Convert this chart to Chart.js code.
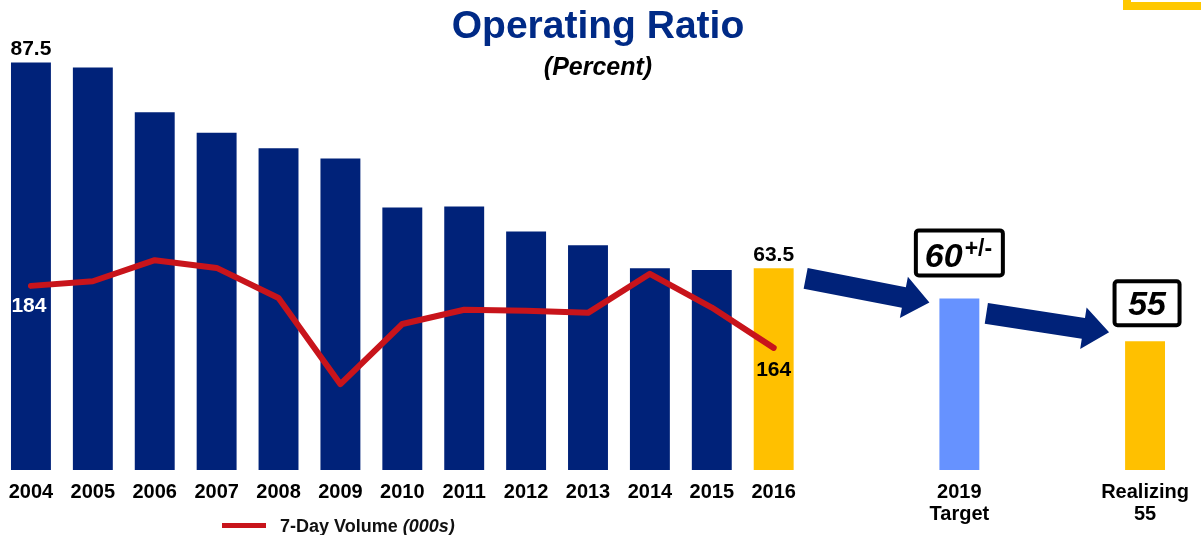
<!DOCTYPE html>
<html>
<head>
<meta charset="utf-8">
<title>Operating Ratio</title>
<script src="https://cdn.jsdelivr.net/npm/chart.js@4.4.1/dist/chart.umd.min.js"></script>
<style>
  html, body { margin: 0; padding: 0; background: #fff; }
  #wrap {
    position: relative; width: 1201px; height: 535px; overflow: hidden;
    font-family: "Liberation Sans", Arial, sans-serif;
  }
  #wrap canvas { position: absolute; left: 0; top: 0; }
  .title {
    position: absolute; left: 0; width: 1196px; top: 5px; text-align: center;
    font-size: 39px; line-height: 39px; font-weight: bold; color: #002a86;
  }
  .subtitle {
    position: absolute; left: 0; width: 1196px; top: 54px; text-align: center;
    font-size: 25px; line-height: 25px; font-weight: bold; font-style: italic; color: #000;
  }
  .legend {
    position: absolute; left: 222px; top: 517px; height: 18px;
    font-size: 18px; line-height: 18px; font-weight: bold; color: #111;
  }
  .legend .swatch {
    position: absolute; left: 0; top: 6px; width: 44px; height: 5px; background: #c8141b;
  }
  .legend .txt { position: absolute; left: 58px; top: 0; white-space: nowrap; }
  .corner {
    position: absolute; left: 1123px; top: 0; width: 78px; height: 10px; background: #ffc800;
  }
  .corner .inner {
    position: absolute; left: 8px; top: 0; width: 70px; height: 2px; background: #fff;
  }
</style>
</head>
<body>
<div id="wrap">
  <canvas id="orChart" width="1201" height="535"></canvas>
  <div class="title">Operating Ratio</div>
  <div class="subtitle">(Percent)</div>
  <div class="legend">
    <div class="swatch"></div>
    <div class="txt">7-Day Volume <i>(000s)</i></div>
  </div>
  <div class="corner"><div class="inner"></div></div>
</div>
<script>
    // Categories: 2004-2016 actuals, blank slots, 2019 target, blank slots, long-term goal
    const categories = [
        '2004', '2005', '2006', '2007', '2008', '2009', '2010',
        '2011', '2012', '2013', '2014', '2015', '2016',
        '', '', ['2019', 'Target'], '', '', ['Realizing', '55']
    ];

    // Operating ratio (percent)
    const operatingRatio = [
        87.5, 86.9, 81.7, 79.3, 77.5, 76.3, 70.6,
        70.7, 67.8, 66.2, 63.5, 63.3, 63.5,
        null, null, 60, null, null, 55
    ];

    // 7-day volume (000s)
    const weeklyVolume = [
        184, 185.5, 192.3, 189.8, 180.1, 152.3, 171.7,
        176.3, 176, 175.3, 187.9, 177, 164,
        null, null, null, null, null, null
    ];

    const NAVY = '#002279';
    const GOLD = '#ffc000';
    const LIGHT_BLUE = '#6692ff';
    const RED = '#c8141b';
    const FONT = '"Liberation Sans", Arial, sans-serif';

    const barColors = operatingRatio.map(function(v, i) {
        if (i === 12 || i === 18) return GOLD;
        if (i === 15) return LIGHT_BLUE;
        return NAVY;
    });

    function drawArrow(ctx, x1, y1, x2, y2) {
        const ang = Math.atan2(y2 - y1, x2 - x1);
        const len = Math.hypot(x2 - x1, y2 - y1);
        const shaft = 10.5, head = 21, headLen = 26;
        ctx.save();
        ctx.translate(x1, y1);
        ctx.rotate(ang);
        ctx.beginPath();
        ctx.moveTo(0, -shaft);
        ctx.lineTo(len - headLen, -shaft);
        ctx.lineTo(len - headLen, -head);
        ctx.lineTo(len, 0);
        ctx.lineTo(len - headLen, head);
        ctx.lineTo(len - headLen, shaft);
        ctx.lineTo(0, shaft);
        ctx.closePath();
        ctx.fillStyle = NAVY;
        ctx.fill();
        ctx.restore();
    }

    function drawBox(ctx, cx, bottom, w, h) {
        const left = cx - w / 2, top = bottom - h;
        ctx.save();
        ctx.fillStyle = '#fff';
        ctx.fillRect(left, top, w, h);
        ctx.lineWidth = 4;
        ctx.strokeStyle = '#000';
        ctx.beginPath();
        ctx.roundRect(left + 2, top + 2, w - 4, h - 4, 3);
        ctx.stroke();
        ctx.restore();
        return { left: left, top: top };
    }

    // Value labels, arrows and the target callouts
    const annotations = {
        id: 'annotations',
        afterDatasetsDraw: function(chart) {
            const ctx = chart.ctx;
            const bars = chart.getDatasetMeta(1).data;
            const line = chart.getDatasetMeta(0).data;

            ctx.save();
            ctx.textAlign = 'center';
            ctx.textBaseline = 'alphabetic';
            ctx.font = 'bold 21px ' + FONT;
            ctx.fillStyle = '#000';
            [0, 12].forEach(function(i) {
                ctx.fillText(operatingRatio[i].toFixed(1), bars[i].x, bars[i].y - 7);
            });

            ctx.fillStyle = '#fff';
            ctx.fillText(String(weeklyVolume[0]), line[0].x - 2, line[0].y + 26);
            ctx.fillStyle = '#000';
            ctx.fillText(String(weeklyVolume[12]), line[12].x, line[12].y + 28);

            // arrows between the 2016 actual, the 2019 target and the goal
            const b16 = bars[12], b19 = bars[15], bGoal = bars[18];
            const half = b16.width / 2;
            drawArrow(ctx, b16.x + half + 12, b16.y + 10, b19.x - half - 10, b19.y + 4);
            drawArrow(ctx, b19.x + half + 7, b19.y + 15, bGoal.x - half - 16, bGoal.y - 9);

            // "60 +/-" callout
            const box1 = drawBox(ctx, b19.x, b19.y - 21, 91, 49);
            ctx.textAlign = 'left';
            ctx.fillStyle = '#000';
            ctx.font = 'italic bold 34px ' + FONT;
            ctx.fillText('60', box1.left + 11, box1.top + 39);
            const w60 = ctx.measureText('60').width;
            ctx.font = 'bold 23px ' + FONT;
            ctx.fillText('+/-', box1.left + 13 + w60, box1.top + 28);

            // "55" callout
            const box2 = drawBox(ctx, bGoal.x + 2, bGoal.y - 14, 69, 48);
            ctx.textAlign = 'center';
            ctx.font = 'italic bold 34px ' + FONT;
            ctx.fillText('55', bGoal.x + 2, box2.top + 36);
            ctx.restore();
        }
    };

    new Chart(document.getElementById('orChart'), {
        type: 'bar',
        data: {
            labels: categories,
            datasets: [{
                type: 'line',
                label: '7-Day Volume (000s)',
                data: weeklyVolume,
                yAxisID: 'y1',
                borderColor: RED,
                borderWidth: 6,
                borderCapStyle: 'round',
                borderJoinStyle: 'round',
                pointRadius: 0,
                tension: 0,
                spanGaps: false,
                order: 0
            }, {
                type: 'bar',
                label: 'Operating Ratio',
                data: operatingRatio,
                yAxisID: 'y',
                backgroundColor: barColors,
                borderWidth: 0,
                categoryPercentage: 1,
                barPercentage: 0.645,
                order: 1
            }]
        },
        options: {
            responsive: false,
            animation: false,
            events: [],
            layout: { padding: { left: 0, right: 25, top: 41, bottom: 7 } },
            plugins: {
                legend: { display: false },
                tooltip: { enabled: false },
                title: { display: false }
            },
            scales: {
                x: {
                    grid: { display: false },
                    border: { display: false },
                    ticks: {
                        autoSkip: false,
                        maxRotation: 0,
                        padding: 3,
                        color: '#000',
                        font: { family: FONT, size: 20, weight: 'bold', lineHeight: 1.1 }
                    }
                },
                y: {
                    display: false,
                    min: 40,
                    max: 90
                },
                y1: {
                    display: false,
                    position: 'right',
                    min: 124.6,
                    max: 263
                }
            }
        },
        plugins: [annotations]
    });
</script>
</body>
</html>
